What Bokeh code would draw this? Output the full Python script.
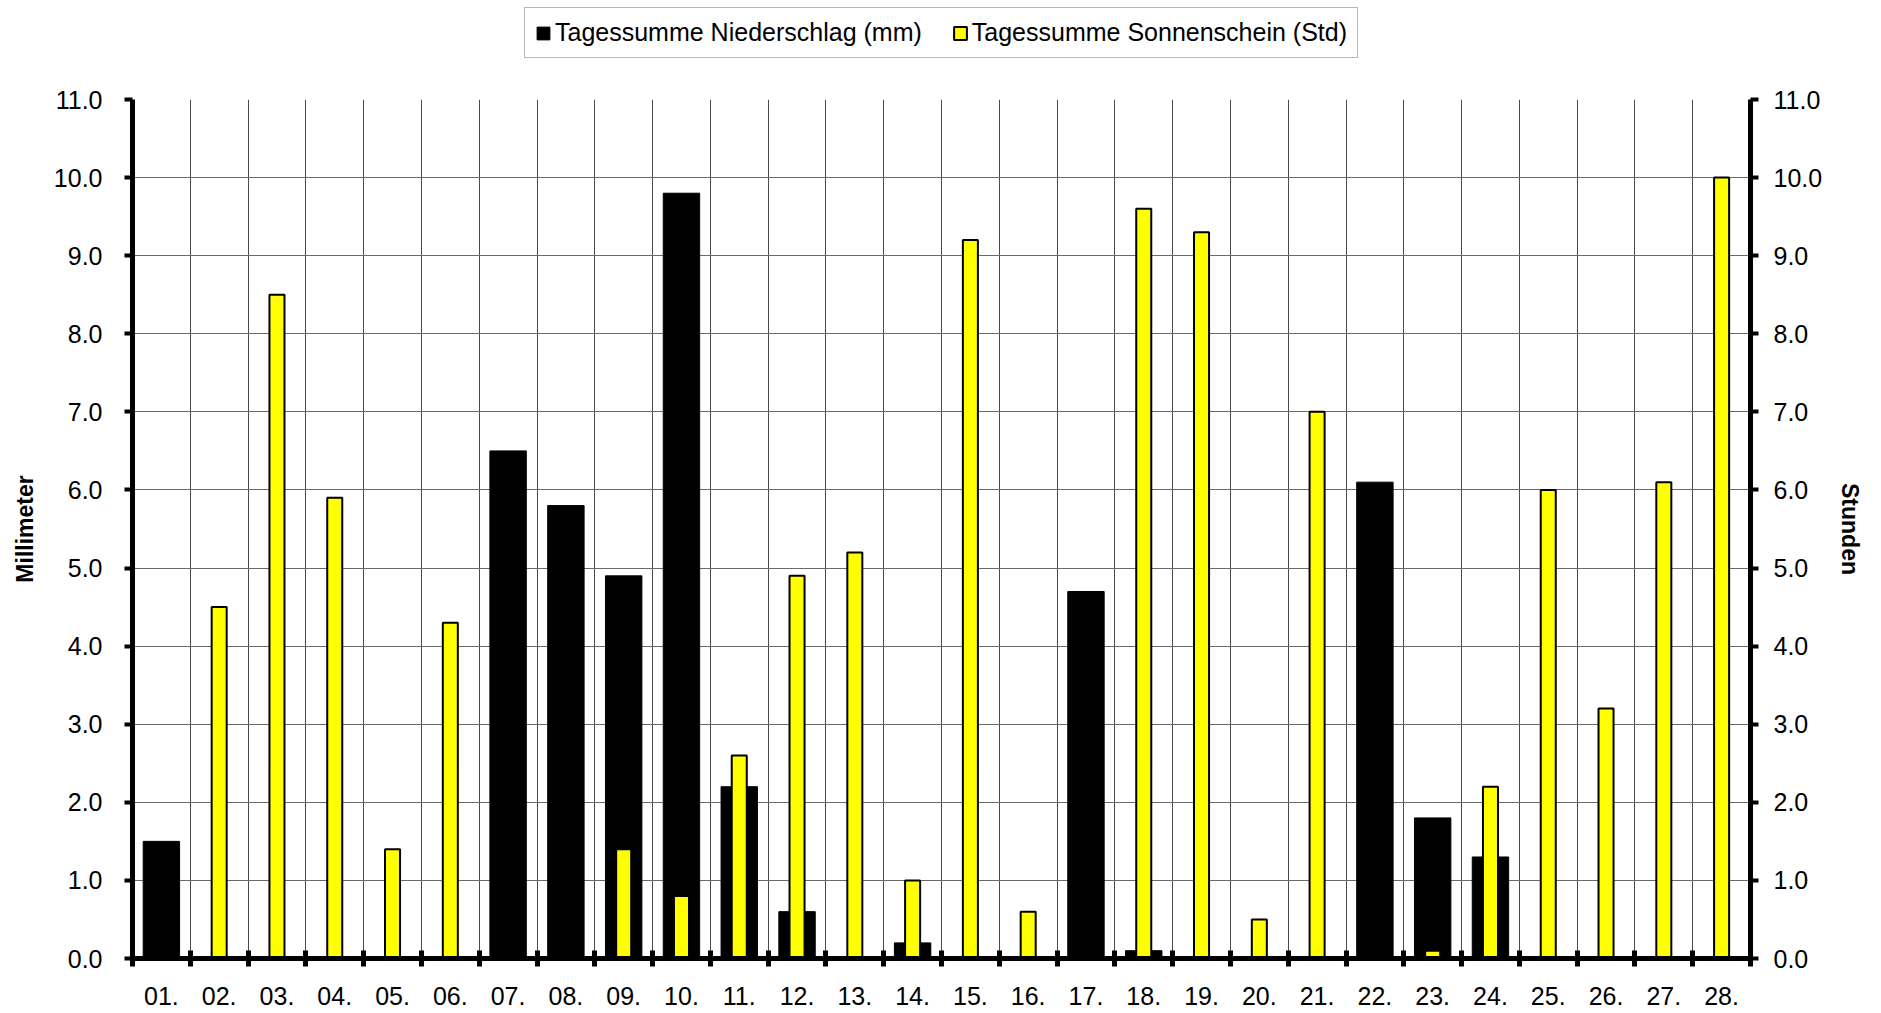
import numpy as np
from bokeh.plotting import figure
from bokeh.layouts import column
from bokeh.models import (Range1d, LinearAxis, FixedTicker, Legend, LegendItem,
                          NumeralTickFormatter)
from bokeh.embed import file_html
from bokeh.resources import INLINE

# ---------------- data ----------------
days = ["01.", "02.", "03.", "04.", "05.", "06.", "07.", "08.", "09.", "10.",
        "11.", "12.", "13.", "14.", "15.", "16.", "17.", "18.", "19.", "20.",
        "21.", "22.", "23.", "24.", "25.", "26.", "27.", "28."]
niederschlag = [1.5, 0.0, 0.0, 0.0, 0.0, 0.0, 6.5, 5.8, 4.9, 9.8,
                2.2, 0.6, 0.0, 0.2, 0.0, 0.0, 4.7, 0.1, 0.0, 0.0,
                0.0, 6.1, 1.8, 1.3, 0.0, 0.0, 0.0, 0.0]
sonnenschein = [0.0, 4.5, 8.5, 5.9, 1.4, 4.3, 0.0, 0.0, 1.4, 0.8,
                2.6, 4.9, 5.2, 1.0, 9.2, 0.6, 0.0, 9.6, 9.3, 0.5,
                7.0, 0.0, 0.1, 2.2, 6.0, 3.2, 6.1, 10.0]
y_ticks = [0, 1, 2, 3, 4, 5, 6, 7, 8, 9, 10, 11]
label_ns = "Tagessumme Niederschlag (mm)"
label_ss = "Tagessumme Sonnenschein (Std)"
title_left = "Millimeter"
title_right = "Stunden"

# ---------------- derived ----------------
n = len(days)
xpos = np.arange(1, n + 1)
bounds = list(np.arange(0.5, n + 1, 1.0))
ns = np.array(niederschlag)
ss = np.array(sonnenschein)
m_ns = ns > 0
m_ss = ss > 0

FONT = "Liberation Sans"
W = 1866
H_TOP = 70
H = 1008 - H_TOP
FRAME_TOP = 99 - H_TOP
FRAME_BOTTOM = 958 - H_TOP

NS_STYLE = dict(fill_color="black", line_color="black", line_width=1)
SS_STYLE = dict(fill_color="#FFFF00", line_color="black", line_width=2)

# ---------------- main chart ----------------
p = figure(width=W, height=H,
           x_range=Range1d(0.5, n + 0.5), y_range=Range1d(0, 11),
           output_backend="svg", toolbar_location=None,
           min_border_left=132, min_border_right=W - 1756,
           min_border_top=FRAME_TOP, min_border_bottom=H - FRAME_BOTTOM)
p.background_fill_color = "white"
p.border_fill_color = "white"
p.outline_line_color = None
p.extra_y_ranges = {"std": Range1d(0, 11)}

# grids
p.xgrid.ticker = FixedTicker(ticks=bounds)
p.xgrid.grid_line_color = "#4a4a4a"
p.xgrid.grid_line_width = 1
p.ygrid.grid_line_color = "#6a6a6a"
p.ygrid.grid_line_width = 1

# bars
p.vbar(x=xpos[m_ns], top=ns[m_ns], width=0.63, bottom=0, **NS_STYLE)
p.vbar(x=xpos[m_ss], top=ss[m_ss], width=0.26, bottom=0,
       y_range_name="std", **SS_STYLE)

# x axis
xa = p.xaxis[0]
xa.ticker = FixedTicker(ticks=list(xpos), minor_ticks=bounds)
xa.major_label_overrides = {int(x): d for x, d in zip(xpos, days)}
xa.major_tick_line_color = None
xa.major_tick_out = 0
xa.major_tick_in = 0
xa.minor_tick_line_color = "black"
xa.minor_tick_line_width = 5
xa.minor_tick_in = 8
xa.minor_tick_out = 8
xa.axis_line_width = 5
xa.axis_line_color = "black"
xa.major_label_text_font = FONT
xa.major_label_text_font_size = "25px"
xa.major_label_text_color = "black"
xa.major_label_standoff = 20

def style_y(ax, title, label_standoff, title_standoff):
    ax.ticker = FixedTicker(ticks=y_ticks)
    ax.formatter = NumeralTickFormatter(format="0.0")
    ax.axis_label = title
    ax.axis_label_text_font = FONT
    ax.axis_label_text_font_style = "bold"
    ax.axis_label_text_font_size = "23px"
    ax.axis_label_text_color = "black"
    ax.axis_label_standoff = title_standoff
    ax.major_label_text_font = FONT
    ax.major_label_text_font_size = "25px"
    ax.major_label_text_color = "black"
    ax.major_label_standoff = label_standoff
    ax.axis_line_width = 5
    ax.axis_line_color = "black"
    ax.major_tick_line_width = 4
    ax.major_tick_line_color = "black"
    ax.major_tick_out = 8
    ax.major_tick_in = 0
    ax.minor_tick_line_color = None

style_y(p.yaxis[0], title_left, 22, 13)
ra = LinearAxis(y_range_name="std")
style_y(ra, title_right, 15, 12)
p.add_layout(ra, "right")

# ---------------- legend strip ----------------
# The same series are drawn here squeezed to a tiny area that lies hidden
# behind the opaque legend box, only so the legend has renderers with data.
lg = figure(width=W, height=H_TOP, x_range=Range1d(-200, 230), y_range=Range1d(-100, 200),
            output_backend="svg", toolbar_location=None,
            x_axis_type=None, y_axis_type=None,
            min_border_left=14, min_border_right=0,
            min_border_top=0, min_border_bottom=0)
lg.outline_line_color = None
lg.grid.visible = False
lg.background_fill_color = "white"
lg.border_fill_color = "white"
d_ns = lg.vbar(x=xpos[m_ns], top=ns[m_ns], width=0.63, **NS_STYLE)
d_ss = lg.vbar(x=xpos[m_ss], top=ss[m_ss], width=0.26, **SS_STYLE)

legend = Legend(items=[LegendItem(label=label_ns, renderers=[d_ns]),
                       LegendItem(label=label_ss, renderers=[d_ss])],
                orientation="horizontal", location="top_center")
legend.label_text_font = FONT
legend.label_text_font_size = "25px"
legend.label_text_color = "black"
legend.label_standoff = 4
legend.glyph_width = 16
legend.glyph_height = 16
legend.spacing = 30
legend.padding = 10
legend.margin = 7
legend.border_line_color = "#6f6f6f"
legend.border_line_width = 1.5
legend.background_fill_color = "white"
legend.background_fill_alpha = 1.0
lg.add_layout(legend)

layout = column(lg, p, spacing=0)
open("out.html", "w").write(file_html(layout, INLINE))
